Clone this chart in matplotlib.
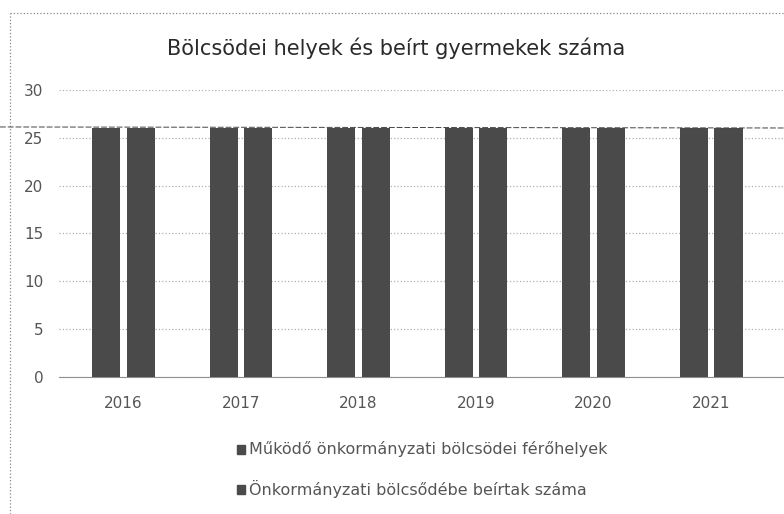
import matplotlib.pyplot as plt
import numpy as np
from matplotlib.patches import Rectangle
from matplotlib.lines import Line2D

plt.rcParams['font.family'] = ['DejaVu Sans']

years = ['2016', '2017', '2018', '2019', '2020', '2021']
ferohelyek = [26, 26, 26, 26, 26, 26]
beirtak = [26, 26, 26, 26, 26, 26]
series_names = ['Működő önkormányzati bölcsödei férőhelyek',
                'Önkormányzati bölcsődébe beírtak száma']

bar_color = '#4a4a4a'
text_color = '#555555'

fig = plt.figure(figsize=(7.84, 5.14), dpi=100)
ax = fig.add_axes([0.075, 0.2665, 0.925, 0.5585])

x = np.arange(len(years))
w = 0.24
gap = 0.055
ax.bar(x - (w + gap) / 2, ferohelyek, width=w, color=bar_color, zorder=3)
ax.bar(x + (w + gap) / 2, beirtak, width=w, color=bar_color, zorder=3)

ax.set_ylim(0, 30)
ax.set_xlim(-0.55, 5.62)
ax.set_yticks(range(0, 31, 5))
ax.set_xticks(x)
ax.set_xticklabels(years)
ax.tick_params(axis='both', length=0, labelsize=11, colors=text_color)
ax.tick_params(axis='x', pad=14)
ax.tick_params(axis='y', pad=11)
ax.grid(axis='y', color='#b0b0b0', linestyle=':', linewidth=0.9, zorder=0)
for side in ['top', 'right', 'left']:
    ax.spines[side].set_visible(False)
ax.spines['bottom'].set_color('#909090')

fig.text(0.505, 0.907, 'Bölcsödei helyek és beírt gyermekek száma',
         ha='center', va='center', fontsize=15, color='#2a2a2a')

# legend entries stacked below the axis
for i, name in enumerate(series_names):
    yy = 0.126 - i * 0.078
    fig.patches.append(Rectangle((0.302, yy - 0.009), 0.011, 0.018,
                                 transform=fig.transFigure, color=bar_color))
    fig.text(0.318, yy, name, ha='left', va='center', fontsize=11.5,
             color=text_color)

# chart border
fig.add_artist(Line2D([0.013, 0.013], [0.0, 0.975], color='#888888',
                      linestyle=':', linewidth=0.9))
fig.add_artist(Line2D([0.013, 1.0], [0.975, 0.975], color='#888888',
                      linestyle=':', linewidth=0.9))
fig.add_artist(Line2D([0.0, 1.0], [0.753, 0.751], color='#444444',
                      linestyle='--', linewidth=0.7, dashes=(6, 2)))

fig.savefig('out.png', dpi=100)
